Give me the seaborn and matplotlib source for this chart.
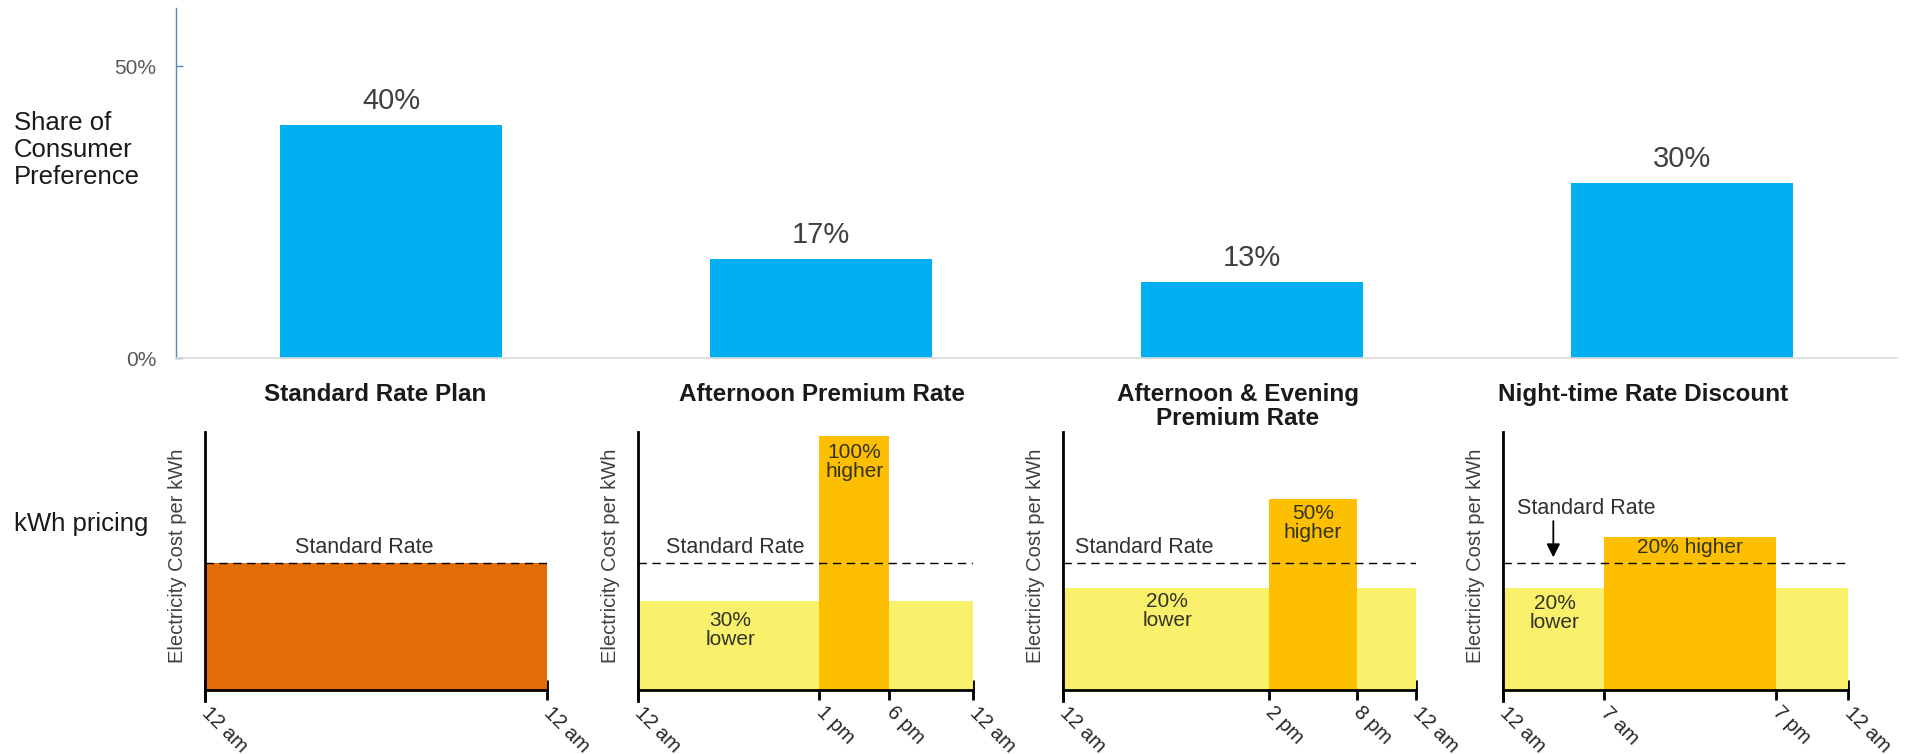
import numpy as np
import pandas as pd
import matplotlib
matplotlib.use("Agg")
import matplotlib.pyplot as plt
import seaborn as sns

# ---------------- data ----------------
plans = ["Standard Rate Plan", "Afternoon Premium Rate",
         "Afternoon & Evening\nPremium Rate", "Night-time Rate Discount"]
share = [0.40, 0.17, 0.13, 0.30]
share_ticks = [0.0, 0.5]

standard_rate = 1.0
p1_edges = [0, 24]
p1_rates = [1.0]
p2_edges = [0, 13, 18, 24]
p2_rates = [0.7, 2.0, 0.7]
p3_edges = [0, 14, 20, 24]
p3_rates = [0.8, 1.5, 0.8]
p4_edges = [0, 7, 19, 24]
p4_rates = [0.8, 1.2, 0.8]

p1_ticklabels = ["12 am", "12 am"]
p2_ticklabels = ["12 am", "1 pm", "6 pm", "12 am"]
p3_ticklabels = ["12 am", "2 pm", "8 pm", "12 am"]
p4_ticklabels = ["12 am", "7 am", "7 pm", "12 am"]

p2_notes = ["30%\nlower", "100%\nhigher"]
p3_notes = ["20%\nlower", "50%\nhigher"]
p4_notes = ["20%\nlower", "20% higher"]

# ---------------- style ----------------
sns.set_style("white")
plt.rcParams["font.family"] = ["Liberation Sans", "DejaVu Sans"]

W, H = 1906, 754
fig = plt.figure(figsize=(W / 100, H / 100), dpi=100)

# ---------------- top bar chart ----------------
ax = fig.add_axes([176 / W, 1 - 358 / H, (1897 - 176) / W, 350 / H])
df = pd.DataFrame({"plan": plans, "share": share})
sns.barplot(data=df, x="plan", y="share", color="#00B0F0", saturation=1,
            width=0.516, linewidth=0, ax=ax)
ax.set_xlim(-0.5, 3.5)
ax.set_ylim(0, 0.6)
ax.set_xlabel("")
ax.set_ylabel("")
ax.set_xticks([])
ax.set_yticks(share_ticks)
ax.set_yticklabels([f"{v:.0%}" for v in share_ticks], color="#595959", fontsize=15)
ax.tick_params(axis="y", direction="in", length=5, width=1, color="#5B86C6", pad=14, left=True)
for s in ["top", "right"]:
    ax.spines[s].set_visible(False)
ax.spines["left"].set_color("#5B86C6")
ax.spines["left"].set_linewidth(1.0)
ax.spines["bottom"].set_color("#D9D9D9")
ax.spines["bottom"].set_linewidth(1.2)
ax.bar_label(ax.containers[0], labels=[f"{v:.0%}" for v in share],
             padding=7, fontsize=21, color="#404040")

fig.text(14 / W, 1 - 150 / H, "Share of\nConsumer\nPreference", ha="left", va="center",
         fontsize=18.5, linespacing=1.17, color="#1a1a1a")
fig.text(14 / W, 1 - 524 / H, "kWh pricing", ha="left", va="center",
         fontsize=18.5, color="#1a1a1a")

# ---------------- bottom panels ----------------
panels = [
    (205, 547, p1_edges, p1_rates, p1_ticklabels, ["#E36C09"]),
    (638, 973, p2_edges, p2_rates, p2_ticklabels, ["#F9F06C", "#FDBF00", "#F9F06C"]),
    (1063, 1416, p3_edges, p3_rates, p3_ticklabels, ["#F9F06C", "#FDBF00", "#F9F06C"]),
    (1503, 1848, p4_edges, p4_rates, p4_ticklabels, ["#F9F06C", "#FDBF00", "#F9F06C"]),
]
title_x = [375, 822, 1238, 1643]
axes = []
for i, (l, r, edges, rates, tlabels, cols) in enumerate(panels):
    a = fig.add_axes([l / W, 1 - 701 / H, (r - l) / W, 269 / H])
    axes.append(a)
    for s in ["top", "right"]:
        a.spines[s].set_visible(False)
    a.spines["left"].set_linewidth(2)
    a.spines["left"].set_color("black")
    a.spines["bottom"].set_position(("data", 0))
    a.spines["bottom"].set_linewidth(2)
    a.spines["bottom"].set_color("black")
    a.patch.set_alpha(0)

    a.bar(edges[:-1], rates, width=np.diff(edges), align="edge", color=cols, linewidth=0)
    a.hlines(standard_rate, edges[0], edges[-1], colors="black", linestyles=(0, (6, 4)),
             linewidth=1.0, zorder=3)
    a.set_xlim(0, 24)
    a.set_ylim(-0.09, 2.03)
    a.set_yticks([])
    a.set_xticks(edges)
    a.set_xticklabels(tlabels, rotation=-45, ha="left", va="center",
                      rotation_mode="anchor", fontsize=14.5, color="#262626")
    a.tick_params(axis="x", direction="inout", length=15, width=2, color="black", pad=7,
                  bottom=True)
    a.text(-27 / (r - l), 0.54, "Electricity Cost per kWh", transform=a.transAxes,
           rotation=90, ha="center", va="center", fontsize=14.5, color="#404040")
    fig.text(title_x[i] / W, 1 - 383 / H, plans[i], ha="center", va="top",
             fontsize=17.5, fontweight="bold", linespacing=1.05, color="#1a1a1a")

txt = dict(ha="center", va="center", fontsize=15.5, color="#303030")
note = dict(ha="center", va="center", fontsize=15, color="#333322", linespacing=1.0)

axes[0].text(11.2, 1.12, "Standard Rate", **txt)
axes[1].text(6.95, 1.12, "Standard Rate", **txt)
axes[1].text(6.6, 0.47, p2_notes[0], **note)
axes[1].text(15.5, 1.79, p2_notes[1], **note)
axes[2].text(5.5, 1.12, "Standard Rate", **txt)
axes[2].text(7.1, 0.62, p3_notes[0], **note)
axes[2].text(17.0, 1.31, p3_notes[1], **note)
axes[3].text(5.8, 1.43, "Standard Rate", **txt)
axes[3].annotate("", xy=(3.5, 1.02), xytext=(3.5, 1.35),
                 arrowprops=dict(arrowstyle="-|>", color="black", lw=1.3, mutation_scale=20))
axes[3].text(3.6, 0.60, p4_notes[0], **note)
axes[3].text(13.0, 1.12, p4_notes[1], **note)

fig.savefig("out.png", dpi=100)
